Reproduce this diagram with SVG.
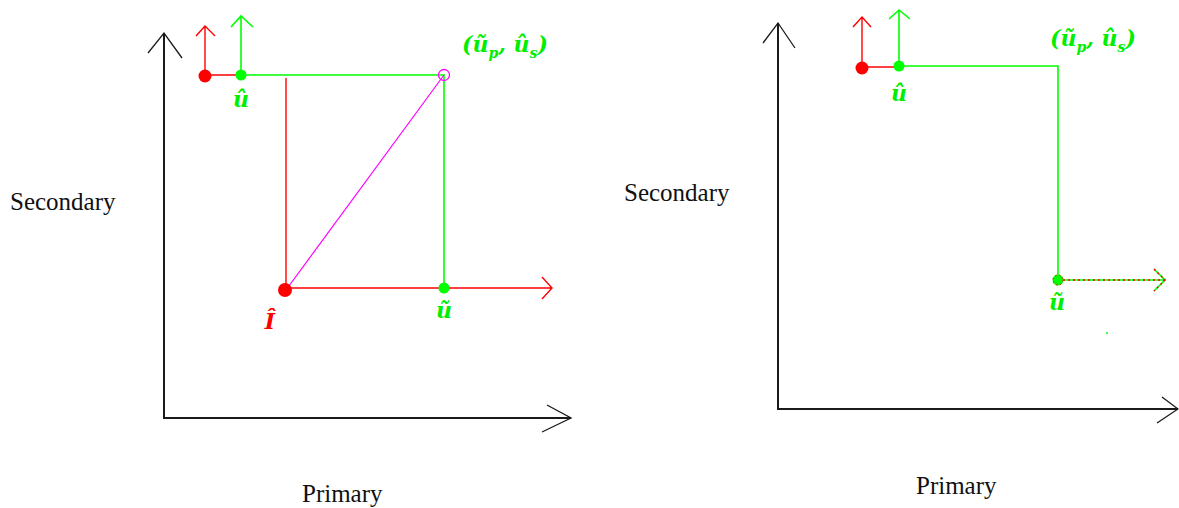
<svg xmlns="http://www.w3.org/2000/svg" width="1179" height="508" viewBox="0 0 1179 508">
<style>
.axis{stroke:#1a1a1a;stroke-width:2;fill:none}
.ah{stroke:#1a1a1a;stroke-width:1.3;fill:none}
.r{stroke:#ff0000;stroke-width:1.4;fill:none}
.g{stroke:#00ff00;stroke-width:1.6;fill:none}
.m{stroke:#ff00ff;stroke-width:1.2;fill:none}
.lbl{font-family:"Liberation Serif","Times New Roman",serif;font-size:25px;fill:#111}
.math{font-family:"DejaVu Serif","Liberation Serif",serif;font-style:italic;font-weight:bold;font-size:22px}
.sub{font-size:14px}
</style>
<rect width="1179" height="508" fill="#ffffff"/>
<g id="connectors">
  <path class="axis" d="M164 33 V418 H571"/>
  <path class="ah" d="M148 53 L164 33 L182 58"/>
  <path class="ah" d="M547 405 L571 418 L542 432"/>
  <path class="r" d="M205 76 V26 M196 36 L205 26 L215 36"/>
  <path class="g" d="M241 76 V16 M231 27 L241 16 L253 27"/>
  <path class="r" d="M205 75 H241"/>
  <path class="g" d="M241 75 H444 V288"/>
  <path class="r" d="M286 78 V288"/>
  <path class="m" d="M286 290 L444 75"/>
  <path class="r" d="M286 288 H551 M542 277 L552 288 L542 299"/>
  <path class="axis" d="M778 23 V409 H1178"/>
  <path class="ah" d="M763 43 L778 23 L795 48"/>
  <path class="ah" d="M1162 397 L1178 409 L1157 423"/>
  <path class="r" d="M862 68 V17 M853 27 L862 17 L871 27"/>
  <path class="g" d="M899 66 V10 M889 19 L899 10 L910 19"/>
  <path class="r" d="M862 67 H899"/>
  <path class="g" d="M899 66 H1058 V280"/>
  <path class="g" d="M1058 280 H1165 M1154 269 L1165 280 L1154 291"/>
  <path class="r" stroke-dasharray="2 3" d="M1058 280 H1165 M1154 269 L1165 280 L1154 291"/>
</g>
<g id="left-panel-nodes">
  <g id="L-red-top"><circle cx="205" cy="76" r="6.5" fill="#ff0000"/></g>
  <g id="L-uhat"><circle cx="241" cy="75" r="5.5" fill="#00ff00"/>
    <text class="math" x="241" y="107" text-anchor="middle" fill="#00ee00">û</text></g>
  <g id="L-corner"><circle cx="444" cy="75" r="5.5" fill="none" stroke="#ff00ff" stroke-width="1.3"/>
    <text class="math" x="462" y="52" fill="#00ee00">(ũ<tspan class="sub" dy="6">p</tspan><tspan dy="-6">, û</tspan><tspan class="sub" dy="6">s</tspan><tspan dy="-6">)</tspan></text></g>
  <g id="L-Ihat"><circle cx="285" cy="290" r="7" fill="#ff0000"/>
    <text class="math" x="270" y="329" text-anchor="middle" fill="#ff0000">Î</text></g>
  <g id="L-utilde"><circle cx="444" cy="288" r="5.5" fill="#00ff00"/>
    <text class="math" x="444" y="318" text-anchor="middle" fill="#00ee00">ũ</text></g>
  <g id="L-secondary"><text class="lbl" x="10" y="210">Secondary</text></g>
  <g id="L-primary"><text class="lbl" x="302" y="502">Primary</text></g>
</g>
<g id="right-panel-nodes">
  <g id="R-red-top"><circle cx="862" cy="68" r="6.5" fill="#ff0000"/></g>
  <g id="R-uhat"><circle cx="899" cy="66" r="5.5" fill="#00ff00"/>
    <text class="math" x="899" y="101" text-anchor="middle" fill="#00ee00">û</text></g>
  <g id="R-corner"><text class="math" x="1050" y="46" fill="#00ee00">(ũ<tspan class="sub" dy="6">p</tspan><tspan dy="-6">, û</tspan><tspan class="sub" dy="6">s</tspan><tspan dy="-6">)</tspan></text></g>
  <g id="R-utilde"><circle cx="1058" cy="280" r="5.5" fill="#00ff00"/>
    <circle cx="1058" cy="280" r="5" fill="none" stroke="#ff0000" stroke-width="1" stroke-dasharray="1.5 2.5"/>
    <text class="math" x="1057" y="310" text-anchor="middle" fill="#00ee00">ũ</text></g>
  <g id="R-dot"><circle cx="1107" cy="333" r="1" fill="#00ff00"/></g>
  <g id="R-secondary"><text class="lbl" x="624" y="201">Secondary</text></g>
  <g id="R-primary"><text class="lbl" x="916" y="494">Primary</text></g>
</g>
</svg>
